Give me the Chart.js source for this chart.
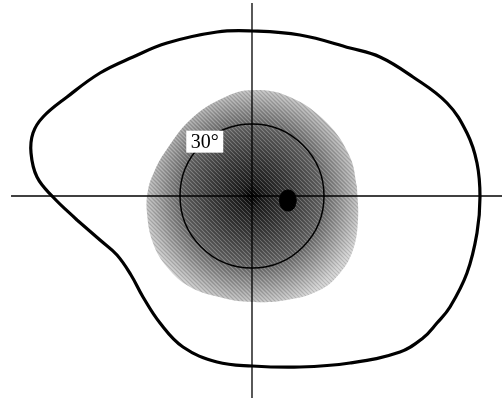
<!DOCTYPE html>
<html>
<head>
<meta charset="utf-8">
<script src="https://cdn.jsdelivr.net/npm/chart.js@4/dist/chart.umd.min.js"></script>
<style>
  html, body { margin: 0; padding: 0; background: #fff; }
  canvas { display: block; }
</style>
</head>
<body>
<canvas id="field" width="502" height="401"></canvas>
<script>
// Visual field map, coordinates in degrees from fixation (x: horizontal, y: vertical)

// Outer boundary of the visual field
const fieldOutlineX = [-72.92, -82.92, -89.58, -92.08, -91.25, -87.08, -77.08, -63.33, -49.58, -35.42, -14.58, 0, 20, 40.83, 53.33, 67.08, 81.25, 89.58, 93.75, 95, 93.75, 89.58, 82.5, 77.08, 71.25, 61.67, 40.83, 20, 0, -14.58, -28.75, -38.33, -45.42, -50.42, -56.25, -63.33, -72.92];
const fieldOutlineY = [-10, -0.42, 7.92, 17.92, 26.25, 32.92, 41.25, 51.25, 57.92, 63.75, 68.33, 68.75, 67.08, 61.67, 57.92, 49.58, 38.75, 26.25, 13.75, -0.42, -15.42, -32.08, -46.25, -52.92, -59.17, -65, -69.58, -71.25, -70.83, -69.17, -62.92, -52.92, -42.08, -32.92, -24.58, -18.33, -10];

// Shaded central region
const centralZoneX = [43.75, 44.17, 42.08, 36.67, 28.33, 14.58, 0, -12.08, -25.83, -35.42, -41.25, -43.75, -43.33, -40.42, -36.25, -25.83, -12.08, 0.42, 15.83, 31.25, 40.83, 43.75];
const centralZoneY = [3.75, -10, -22.5, -32.08, -39.17, -43.33, -44.17, -42.5, -37.92, -29.58, -19.58, -7.08, 2.5, 10.83, 18.33, 31.67, 40.83, 44.17, 41.25, 30.42, 16.25, 3.75];

// Blind spot
const blindSpotX = [18.5, 17.5, 15, 12.5, 11.5, 12.5, 15, 17.5, 18.5];
const blindSpotY = [-1.9, -5, -6.25, -5, -1.9, 1.25, 2.5, 1.25, -1.9];

// Reference circle (eccentricity in degrees) and its label
const ringDegrees = [30];
const ringLabels = ['30°'];
const ringLabelAngle = 131; // degrees, counter-clockwise from the right

// Meridians
const horizontalMeridianX = [-100.4, 104.2];
const verticalMeridianY = [80.4, -84.2];

const pts = (xs, ys) => xs.map((x, i) => ({ x, y: ys[i] }));

function pxPerDeg(chart) {
  const s = chart.scales.x;
  return Math.abs(s.getPixelForValue(1) - s.getPixelForValue(0));
}

// Radial grey ramp: dark at fixation, fading outwards
function shading(ctx) {
  const chart = ctx.chart;
  if (!chart.chartArea) return '#888';
  const c = chart.ctx;
  const cx = chart.scales.x.getPixelForValue(0);
  const cy = chart.scales.y.getPixelForValue(0);
  const r = 47 * pxPerDeg(chart);
  const g = c.createRadialGradient(cx, cy, 0, cx, cy, r);
  g.addColorStop(0, '#000');
  g.addColorStop(0.1, '#1c1c1c');
  g.addColorStop(0.35, '#3c3c3c');
  g.addColorStop(0.6, '#606060');
  g.addColorStop(0.8, '#979797');
  g.addColorStop(1, '#cfcfcf');
  return g;
}

// Fine diagonal screen laid over the grey ramp
let screenPattern = null;
function screen(ctx) {
  if (!screenPattern) {
    const t = document.createElement('canvas');
    t.width = 4; t.height = 4;
    const tc = t.getContext('2d');
    tc.fillStyle = 'rgba(255,255,255,0.22)';
    for (let i = 0; i < 4; i++) tc.fillRect(i, i, 1, 1);
    tc.fillStyle = 'rgba(0,0,0,0.10)';
    for (let i = 0; i < 4; i++) tc.fillRect((i + 2) % 4, i, 1, 1);
    screenPattern = ctx.chart.ctx.createPattern(t, 'repeat');
  }
  return screenPattern;
}

const whiteBackground = {
  id: 'whiteBackground',
  beforeDraw(chart) {
    const c = chart.ctx;
    c.save();
    c.fillStyle = '#fff';
    c.fillRect(0, 0, chart.width, chart.height);
    c.restore();
  }
};

const ringLabelPlugin = {
  id: 'ringLabel',
  afterDatasetsDraw(chart) {
    const c = chart.ctx;
    const a = ringLabelAngle * Math.PI / 180;
    ringDegrees.forEach((deg, i) => {
      const x = chart.scales.x.getPixelForValue(deg * Math.cos(a));
      const y = chart.scales.y.getPixelForValue(deg * Math.sin(a));
      c.save();
      c.font = '20px "Liberation Serif", "DejaVu Serif", serif';
      c.textAlign = 'center';
      c.textBaseline = 'middle';
      const w = c.measureText(ringLabels[i]).width + 9;
      const h = 22;
      c.fillStyle = '#fff';
      c.fillRect(x - w / 2, y - h / 2, w, h);
      c.fillStyle = '#000';
      c.fillText(ringLabels[i], x, y + 1);
      c.restore();
    });
  }
};

new Chart(document.getElementById('field'), {
  type: 'scatter',
  data: {
    datasets: [
      {
        type: 'line',
        data: pts(centralZoneX, centralZoneY),
        fill: 'shape',
        backgroundColor: shading,
        borderWidth: 0,
        borderColor: 'rgba(0,0,0,0)',
        pointRadius: 0,
        tension: 0.4,
        order: 7
      },
      {
        type: 'line',
        data: pts(centralZoneX, centralZoneY),
        fill: 'shape',
        backgroundColor: screen,
        borderWidth: 0,
        borderColor: 'rgba(0,0,0,0)',
        pointRadius: 0,
        tension: 0.4,
        order: 6
      },
      {
        data: [{ x: 0, y: 0 }],
        pointRadius: ctx => ringDegrees[0] * pxPerDeg(ctx.chart),
        pointBackgroundColor: 'rgba(0,0,0,0)',
        pointBorderColor: '#000',
        pointBorderWidth: 1.5,
        order: 4
      },
      {
        type: 'line',
        data: pts(blindSpotX, blindSpotY),
        fill: 'shape',
        backgroundColor: '#000',
        borderColor: '#000',
        borderWidth: 1,
        pointRadius: 0,
        tension: 0.4,
        order: 3
      },
      {
        type: 'line',
        data: pts(horizontalMeridianX, [0, 0]),
        borderColor: '#000',
        borderWidth: 1.3,
        pointRadius: 0,
        order: 2
      },
      {
        type: 'line',
        data: pts([0, 0], verticalMeridianY),
        borderColor: '#000',
        borderWidth: 1.3,
        pointRadius: 0,
        order: 2
      },
      {
        type: 'line',
        data: pts(fieldOutlineX, fieldOutlineY),
        borderColor: '#000',
        borderWidth: 3.2,
        pointRadius: 0,
        tension: 0.4,
        fill: false,
        order: 1
      }
    ]
  },
  options: {
    responsive: false,
    animation: false,
    events: [],
    layout: { padding: 0 },
    plugins: { legend: { display: false }, tooltip: { enabled: false } },
    scales: {
      x: { type: 'linear', display: false, min: -105, max: 104.17 },
      y: { type: 'linear', display: false, min: -85.42, max: 81.67 }
    }
  },
  plugins: [whiteBackground, ringLabelPlugin]
});
</script>
</body>
</html>
